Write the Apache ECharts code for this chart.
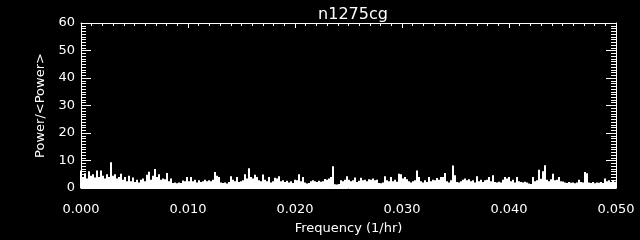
<!DOCTYPE html>
<html><head><meta charset="utf-8">
<script src="https://cdn.jsdelivr.net/npm/echarts@6/dist/echarts.min.js"></script>
<style>html,body{margin:0;padding:0;background:#000;}#c{width:640px;height:240px;}</style>
</head><body><div id="c"></div>
<script>
const title = "n1275cg";
const xName = "Frequency (1/hr)";
const yName = "Power/<Power>";
const xTicks = [0, 0.01, 0.02, 0.03, 0.04, 0.05];
const yTicks = [0, 10, 20, 30, 40, 50, 60];
const freqStep = 0.05 / 267.5;
const power = [
 6.4,4.0,5.4,3.5,6.1,4.5,5.0,3.8,6.4,4.0,
 6.4,4.5,3.5,5.0,4.0,9.4,4.5,5.0,3.5,4.0,
 5.2,3.0,4.0,2.5,4.5,2.5,3.8,2.2,3.0,2.0,
 3.0,3.5,2.5,4.8,5.9,3.0,4.5,6.9,4.0,5.0,
 3.0,3.5,3.2,5.5,2.5,3.5,1.8,2.0,1.7,2.0,
 1.8,2.7,2.5,4.0,2.5,4.0,2.5,3.0,2.0,2.8,
 2.2,2.5,3.0,2.5,2.8,2.5,3.0,5.8,4.5,4.0,
 2.0,1.8,2.0,1.6,2.2,4.3,3.0,2.5,4.0,2.2,
 2.5,2.8,5.0,3.5,7.2,4.0,3.5,4.8,4.0,2.8,
 2.5,4.9,3.0,2.5,4.0,2.0,2.5,3.7,3.5,4.3,
 2.5,2.8,2.2,2.6,2.0,2.5,1.8,3.0,2.8,5.0,
 2.5,4.0,2.0,1.6,1.8,2.5,2.8,2.5,2.2,2.6,
 2.3,2.5,3.3,3.0,3.5,4.0,7.9,1.4,1.3,1.5,
 2.8,2.5,3.0,4.3,3.0,2.5,2.8,3.8,2.2,2.6,
 3.7,2.8,3.0,2.5,3.2,3.0,3.5,2.8,3.0,1.8,
 1.7,2.0,4.3,2.8,2.5,4.0,2.5,3.0,2.3,5.2,
 5.0,3.5,4.0,3.2,2.5,2.0,2.5,2.8,6.4,4.0,
 2.5,2.0,2.8,2.2,4.0,2.5,3.0,2.8,3.6,3.0,
 4.0,4.0,5.5,2.5,2.0,2.8,8.2,4.6,2.2,2.0,
 2.5,3.0,3.5,2.8,3.2,2.5,2.8,2.0,4.3,2.5,
 3.0,2.2,2.8,3.0,4.0,2.5,4.6,2.2,2.0,2.3,
 2.0,3.0,4.0,3.5,4.0,2.5,3.0,2.0,4.0,2.5,
 2.2,2.0,2.3,2.0,1.6,1.5,4.0,2.5,2.8,6.6,
 3.4,6.1,8.3,3.0,2.5,3.2,5.2,2.8,3.0,4.0,
 2.5,2.4,2.0,1.8,2.2,1.9,2.0,1.7,2.0,3.0,
 2.2,2.0,5.8,5.4,2.0,1.8,2.2,1.7,2.0,1.9,
 2.2,1.8,3.5,2.5,2.8,2.2,2.6,2.3
];
const data = power.map((p, i) => [i * freqStep, p]);

const font = "DejaVu Sans";
const W = '#ffffff';
const chart = echarts.init(document.getElementById('c'), null, {renderer: 'canvas'});
const xBase = {
  type: 'value', min: xTicks[0], max: xTicks[xTicks.length - 1], interval: 0.01,
  axisLine: {show: true, onZero: false, lineStyle: {color: W, width: 1}},
  axisTick: {show: true, inside: true, length: 5, lineStyle: {color: W}},
  minorTick: {show: true, splitNumber: 10, length: 3, lineStyle: {color: W}},
  splitLine: {show: false}
};
const yBase = {
  type: 'value', min: yTicks[0], max: yTicks[yTicks.length - 1], interval: 10,
  axisLine: {show: true, onZero: false, lineStyle: {color: W, width: 1}},
  axisTick: {show: true, inside: true, length: 10, lineStyle: {color: W}},
  minorTick: {show: true, splitNumber: 10, length: 5, lineStyle: {color: W}},
  splitLine: {show: false}
};
chart.setOption({
  backgroundColor: '#000',
  animation: false,
  title: {text: title, left: 348, top: 2, textAlign: 'center',
    textStyle: {color: W, fontFamily: font, fontSize: 16, fontWeight: 'normal'}},
  grid: {left: 81, right: 24, top: 23, bottom: 49},
  xAxis: [
    Object.assign({}, xBase, {position: 'bottom',
      name: xName, nameLocation: 'middle', nameGap: 34,
      nameTextStyle: {color: W, fontFamily: font, fontSize: 13},
      axisLabel: {color: W, fontFamily: font, fontSize: 13, margin: 15,
        formatter: v => v.toFixed(3)}}),
    Object.assign({}, xBase, {position: 'top', axisLabel: {show: false}})
  ],
  yAxis: [
    Object.assign({}, yBase, {position: 'left',
      name: yName, nameLocation: 'middle', nameGap: 28,
      nameTextStyle: {color: W, fontFamily: font, fontSize: 13},
      axisLabel: {color: W, fontFamily: font, fontSize: 13, margin: 6}}),
    Object.assign({}, yBase, {position: 'right', axisLabel: {show: false}})
  ],
  series: [{
    type: 'bar', data: data, barWidth: 2, xAxisIndex: 0, yAxisIndex: 0,
    itemStyle: {color: W}, silent: true
  }]
});
</script></body></html>
